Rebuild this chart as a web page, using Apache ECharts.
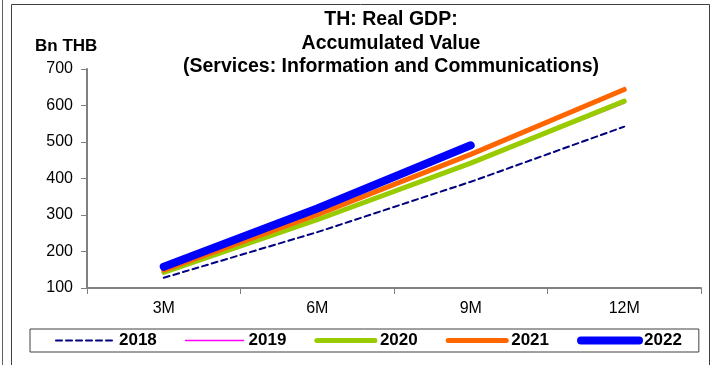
<!DOCTYPE html>
<html>
<head>
<meta charset="utf-8">
<script src="https://cdn.jsdelivr.net/npm/echarts@6/dist/echarts.min.js"></script>
<style>
  html, body { margin: 0; padding: 0; background: #ffffff; }
  #chart { width: 712px; height: 365px; }
</style>
</head>
<body>
<div id="chart"></div>
<script>
// Accumulated real GDP, information & communications services (Bn THB)
const categories = ['3M', '6M', '9M', '12M'];
const years = ['2018', '2019', '2020', '2021', '2022'];
const y2018 = [128, 253, 391, 542];
const y2019 = [141, 284, 440, 607];
const y2020 = [143, 287, 442, 612];
const y2021 = [149, 301, 466, 644];
const y2022 = [158, 318, 491];
const yTicks = { min: 100, max: 700, step: 100 };

const FONT = '"Liberation Sans", Arial, sans-serif';
const AXIS_GREY = '#808080';

const styles = {
  '2018': { color: '#000080', width: 2, type: [6, 4] },
  '2019': { color: '#FF00FF', width: 1.5, type: 'solid' },
  '2020': { color: '#99CC00', width: 5, type: 'solid' },
  '2021': { color: '#FF6600', width: 5, type: 'solid' },
  '2022': { color: '#0000FF', width: 8, type: 'solid' }
};
const values = { '2018': y2018, '2019': y2019, '2020': y2020, '2021': y2021, '2022': y2022 };

const series = years.map(function (yr) {
  const s = styles[yr];
  return {
    name: yr,
    type: 'line',
    data: values[yr],
    symbol: 'none',
    showSymbol: false,
    animation: false,
    color: s.color,
    lineStyle: { color: s.color, width: s.width, type: s.type, cap: 'round', join: 'round' },
    emphasis: { disabled: true }
  };
});

// legend entries: line sample only, same stroke as the series
const legendData = years.map(function (yr) {
  const s = styles[yr];
  return {
    name: yr,
    itemStyle: { opacity: 0, borderWidth: 0, color: 'transparent' },
    lineStyle: { color: s.color, width: s.width, type: s.type, cap: 'round' }
  };
});

const chart = echarts.init(document.getElementById('chart'), null, { renderer: 'canvas' });
chart.setOption({
  animation: false,
  backgroundColor: '#ffffff',
  textStyle: { fontFamily: FONT },
  grid: { left: 87, right: 11, top: 69, bottom: 77, containLabel: false },
  graphic: [
    // outer frames
    { type: 'line', shape: { x1: 2.5, y1: 0, x2: 2.5, y2: 365 }, style: { stroke: '#606060', lineWidth: 1 }, silent: true },
    { type: 'rect', shape: { x: 11.5, y: 4.5, width: 698, height: 400 }, style: { fill: null, stroke: '#404040', lineWidth: 1 }, silent: true },
    // title
    { type: 'text', x: 391, y: 20, style: { text: 'TH: Real GDP:', font: 'bold 19.5px ' + FONT, fill: '#000', textAlign: 'center', textVerticalAlign: 'middle' }, silent: true },
    { type: 'text', x: 391, y: 43.5, style: { text: 'Accumulated Value', font: 'bold 19.5px ' + FONT, fill: '#000', textAlign: 'center', textVerticalAlign: 'middle' }, silent: true },
    { type: 'text', x: 391, y: 66.5, style: { text: '(Services: Information and Communications)', font: 'bold 19.5px ' + FONT, fill: '#000', textAlign: 'center', textVerticalAlign: 'middle' }, silent: true },
    // unit label
    { type: 'text', x: 35, y: 46.5, style: { text: 'Bn THB', font: 'bold 17px ' + FONT, fill: '#000', textAlign: 'left', textVerticalAlign: 'middle' }, silent: true }
  ],
  legend: {
    data: legendData,
    left: 30,
    top: 329,
    orient: 'horizontal',
    itemWidth: 58,
    itemHeight: 14,
    itemGap: 28,
    padding: [3, 17, 3, 25],
    borderColor: '#404040',
    borderWidth: 1,
    textStyle: { fontFamily: FONT, fontSize: 17, fontWeight: 'bold', color: '#000' },
    selectedMode: false
  },
  xAxis: {
    type: 'category',
    data: categories,
    boundaryGap: true,
    axisLine: { show: true, lineStyle: { color: AXIS_GREY, width: 2 } },
    axisTick: { show: true, inside: false, length: 6, alignWithLabel: false, lineStyle: { color: AXIS_GREY, width: 1 } },
    axisLabel: { color: '#000', fontFamily: FONT, fontSize: 16, margin: 13 },
    splitLine: { show: false }
  },
  yAxis: {
    type: 'value',
    min: yTicks.min,
    max: yTicks.max,
    interval: yTicks.step,
    axisLine: { show: true, lineStyle: { color: AXIS_GREY, width: 2 } },
    axisTick: { show: true, inside: false, length: 6, lineStyle: { color: AXIS_GREY, width: 1 } },
    axisLabel: { color: '#000', fontFamily: FONT, fontSize: 16, margin: 14 },
    splitLine: { show: false }
  },
  series: series
});
</script>
</body>
</html>
